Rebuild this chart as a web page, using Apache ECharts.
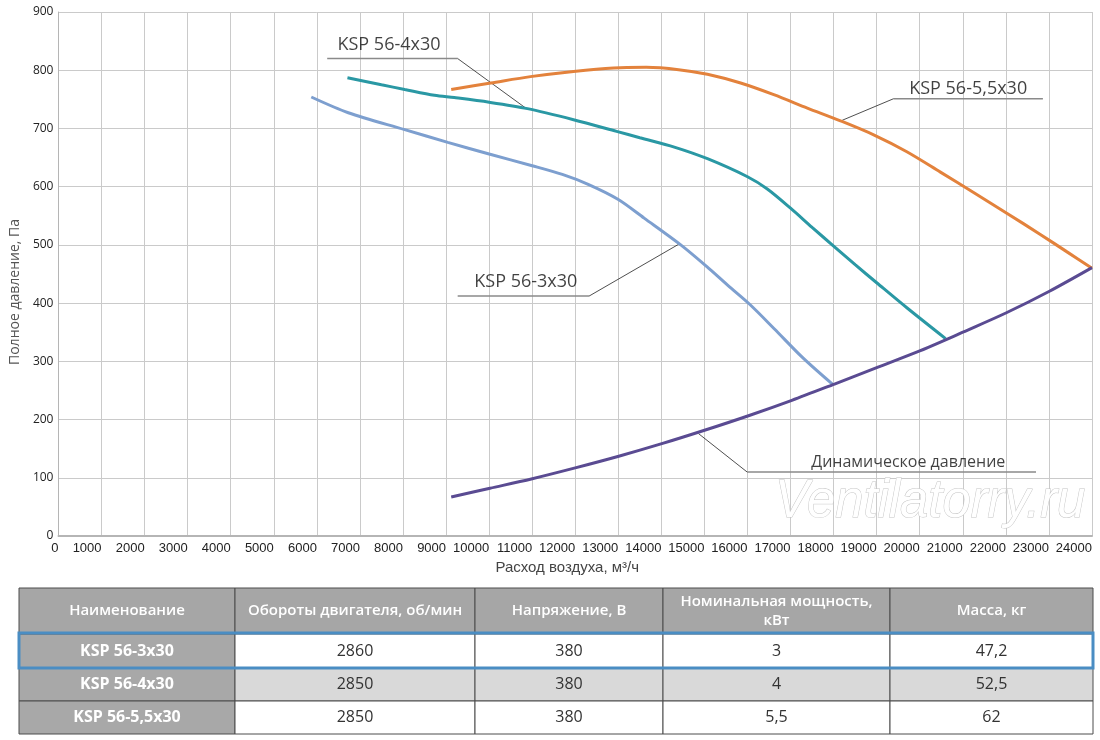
<!DOCTYPE html>
<html>
<head>
<meta charset="utf-8">
<script src="https://cdn.jsdelivr.net/npm/echarts@6/dist/echarts.min.js"></script>
<style>
html, body { margin: 0; padding: 0; background: #fff; }
#chart { width: 1100px; height: 740px; }
</style>
</head>
<body>
<div id="chart"></div>
<script>
// кривые: [расход, м3/ч ; давление, Па]
var ksp3 = [[5870, 754], [6730, 727], [8040, 698], [9040, 676], [10000, 656], [11000, 636], [11700, 621],
    [12300, 604], [13000, 578], [13600, 546], [14450, 500], [15050, 463], [15550, 430], [16050, 398],
    [16620, 356], [17300, 305], [18000, 259]];
var ksp4 = [[6710, 787], [7500, 775], [8040, 767], [8730, 757], [9190, 753], [10000, 745], [10890, 734],
    [11960, 715], [12960, 695], [13500, 684], [14300, 668], [15070, 648], [16000, 617], [16460, 596],
    [17000, 563], [17500, 530], [18000, 498], [18500, 466], [19000, 435], [19700, 392], [20600, 339]];
var ksp55 = [[9120, 767], [10040, 778], [10960, 789], [11960, 798], [12890, 804], [13650, 805], [14400, 801],
    [15070, 793], [15840, 778], [16610, 758], [17390, 735], [18160, 713], [18930, 689], [19700, 660],
    [20480, 625], [21250, 590], [22030, 554], [22800, 518], [23420, 488], [24000, 460]];
var dynamic = [[9120, 67], [10020, 82], [10980, 98], [12000, 117], [13010, 137], [14030, 159], [15020, 182],
    [16040, 207], [17030, 233], [18020, 261], [19030, 290], [20000, 318], [20600, 337], [21000, 350],
    [22000, 383], [23000, 420], [24000, 461]];

var seriesNames = ['KSP 56-3x30', 'KSP 56-4x30', 'KSP 56-5,5x30', 'Динамическое давление'];
var seriesColors = ['#7d9fcf', '#2a98a4', '#e3823c', '#5a4b92'];

// подписи-выноски: полка (от дальнего конца к ближнему) + точка на кривой, центр текста
var noteLabels = ['KSP 56-4x30', 'KSP 56-3x30', 'KSP 56-5,5x30', 'Динамическое давление'];
var noteShelves = [[[6240, 820], [9270, 820]], [[9270, 412], [12320, 412]], [[22860, 751], [19390, 751]], [[22700, 110], [15990, 110]]];
var noteTargets = [[10850, 735], [14400, 501], [18200, 714], [14860, 176]];
var noteAnchors = [[7675, 843], [10852, 436], [21125, 768], [19733, 127]];

// таблица
var tableHead = ['Наименование', 'Обороты двигателя, об/мин', 'Напряжение, В', 'Номинальная мощность,\nкВт', 'Масса, кг'];
var models = ['KSP 56-3x30', 'KSP 56-4x30', 'KSP 56-5,5x30'];
var rpm = ['2860', '2850', '2850'];
var voltage = ['380', '380', '380'];
var power = ['3', '4', '5,5'];
var mass = ['47,2', '52,5', '62'];

var colX = [19, 235, 475, 663, 890, 1093];
var rowY = [588, 634, 668, 701, 734];
var rowBg = ['#ffffff', '#d9d9d9', '#ffffff'];

var myChart = echarts.init(document.getElementById('chart'));

var series = [];
[ksp3, ksp4, ksp55, dynamic].forEach(function(d, i) {
    series.push({
        name: seriesNames[i],
        type: 'line',
        data: d,
        smooth: 0.3,
        symbol: 'none',
        z: 4,
        lineStyle: { color: seriesColors[i], width: 3 }
    });
});

noteShelves.forEach(function(shelf, i) {
    series.push({
        type: 'line', data: shelf, symbol: 'none', silent: true, z: 3,
        lineStyle: { color: '#8a8a8a', width: 1.5 }
    });
    series.push({
        type: 'line', data: [shelf[1], noteTargets[i]], symbol: 'none', silent: true, z: 3,
        lineStyle: { color: '#222', width: 0.8 }
    });
});

series.push({
    type: 'scatter',
    symbolSize: 0,
    silent: true,
    z: 5,
    data: noteAnchors.map(function(p, i) {
        return { value: p, name: noteLabels[i], label: { fontSize: i === 3 ? 16 : 18 } };
    }),
    label: {
        show: true,
        position: 'inside',
        formatter: '{b}',
        color: '#111',
        fontFamily: 'Open Sans'
    }
});

// таблица из прямоугольников
var cells = [];
function cell(c, r, bg, txt, style) {
    cells.push({
        type: 'rect',
        shape: { x: colX[c], y: rowY[r], width: colX[c + 1] - colX[c], height: rowY[r + 1] - rowY[r] },
        style: { fill: bg, stroke: '#4d4d4d', lineWidth: 1 },
        z: 10
    });
    cells.push({
        type: 'text',
        x: (colX[c] + colX[c + 1]) / 2,
        y: (rowY[r] + rowY[r + 1]) / 2,
        style: Object.assign({ text: txt, align: 'center', verticalAlign: 'middle', fontFamily: 'Open Sans' }, style),
        z: 11
    });
}
tableHead.forEach(function(h, c) {
    cell(c, 0, '#a6a6a6', h, { fill: '#fff', fontSize: 15, fontWeight: 600, lineHeight: 19 });
});
models.forEach(function(m, r) {
    cell(0, r + 1, '#a8a8a8', m, { fill: '#fff', fontSize: 16, fontWeight: 'bold' });
    [rpm[r], voltage[r], power[r], mass[r]].forEach(function(v, c) {
        cell(c + 1, r + 1, rowBg[r], v, { fill: '#333', fontSize: 16 });
    });
});
cells.push({
    type: 'rect',
    shape: { x: colX[0], y: rowY[1] - 1, width: colX[5] - colX[0], height: rowY[2] - rowY[1] + 1 },
    style: { fill: 'none', stroke: '#4a8dc3', lineWidth: 3 },
    z: 12
});
// водяной знак
cells.push({
    type: 'text',
    x: 775,
    y: 475,
    scaleX: 0.94,
    style: {
        text: 'Ventilatorry.ru',
        font: 'italic 54px "Liberation Sans", sans-serif',
        fill: '#fff',
        stroke: '#c4c4c4',
        lineWidth: 1
    },
    z: 1
});

var option = {
    animation: false,
    grid: { left: 57, right: 8, top: 12, bottom: 204 },
    xAxis: {
        type: 'value',
        min: 0,
        max: 24000,
        interval: 1000,
        name: 'Расход воздуха, м³/ч',
        nameLocation: 'middle',
        nameGap: 23,
        nameTextStyle: { fontFamily: 'Liberation Sans', fontSize: 15, color: '#444', padding: [0, 16, 0, 0] },
        axisLine: { lineStyle: { color: '#b5b5b5', width: 2 } },
        axisTick: { show: false },
        splitLine: { show: true, lineStyle: { color: '#cacaca', width: 1 } },
        axisLabel: {
            align: 'right', margin: 6, fontFamily: 'Liberation Sans', fontSize: 13, color: '#222',
            formatter: function(v) { return String(v); }
        }
    },
    yAxis: {
        type: 'value',
        min: 0,
        max: 900,
        interval: 100,
        name: 'Полное давление, Па',
        nameLocation: 'middle',
        nameGap: 35,
        nameTextStyle: { fontFamily: 'Open Sans', fontSize: 14, color: '#555', padding: [0, 36, 0, 0] },
        axisLine: { show: true, lineStyle: { color: '#b5b5b5', width: 1 } },
        axisTick: { show: false },
        splitLine: { show: true, lineStyle: { color: '#cacaca', width: 1 } },
        axisLabel: { margin: 5, fontFamily: 'Open Sans', fontSize: 12, color: '#222' }
    },
    graphic: cells,
    series: series
};

myChart.setOption(option);
</script>
</body>
</html>
